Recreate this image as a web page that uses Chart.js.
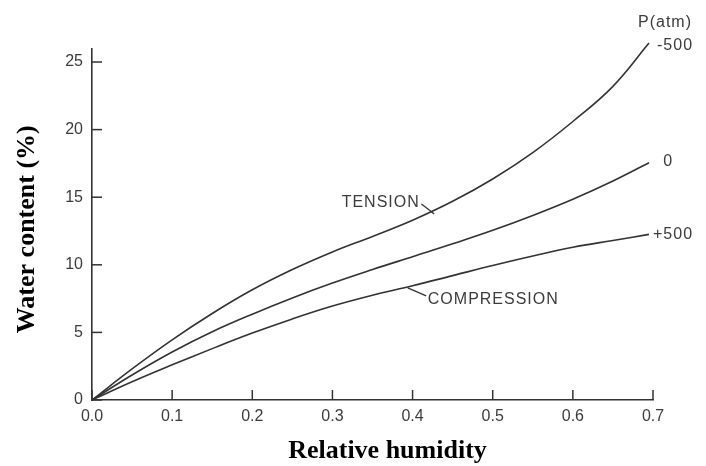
<!DOCTYPE html>
<html><head><meta charset="utf-8">
<script src="https://cdn.jsdelivr.net/npm/chart.js@4"></script>
<style>html,body{margin:0;padding:0;background:#fff}canvas{display:block}</style>
</head><body>
<canvas id="c" width="706" height="466"></canvas>
<script>
// ---- data ----
const humidity    = [0, 0.05, 0.10, 0.15, 0.20, 0.25, 0.30, 0.35, 0.40, 0.45, 0.50, 0.55, 0.60, 0.65, 0.695];
const tension     = [0, 2.3, 4.45, 6.4, 8.15, 9.65, 10.95, 12.1, 13.3, 14.7, 16.35, 18.3, 20.6, 23.2, 26.4]; // P = -500 atm
const neutral     = [0, 1.85, 3.55, 5.05, 6.35, 7.55, 8.65, 9.65, 10.6, 11.55, 12.55, 13.65, 14.85, 16.2, 17.55]; // P = 0
const compression = [0, 1.35, 2.6, 3.8, 4.95, 6.0, 6.95, 7.75, 8.45, 9.2, 9.95, 10.65, 11.3, 11.8, 12.25]; // P = +500 atm
const xTickValues = [0, 0.1, 0.2, 0.3, 0.4, 0.5, 0.6, 0.7];
const yTickValues = [0, 5, 10, 15, 20, 25];
const seriesNames = ['-500', '0', '+500'];
const legendTitle = 'P(atm)';
const xTitle = 'Relative humidity';
const yTitle = 'Water content (%)';

const ink = '#333333';
const textInk = '#3c3c3c';

function pts(ys){ return humidity.map((x,i)=>({x:x, y:ys[i]})); }

const ds = (name, ys) => ({
  label: name, data: pts(ys), borderColor: ink, borderWidth: 1.6,
  pointRadius: 0, fill: false, tension: 0.4, clip: false
});

const decor = {
  id: 'decor',
  afterDatasetsDraw(chart){
    const {ctx, chartArea: a, scales: {x, y}} = chart;
    ctx.save();
    // inward tick marks
    ctx.strokeStyle = ink; ctx.lineWidth = 1.5;
    yTickValues.forEach(v => { const py = y.getPixelForValue(v); ctx.beginPath(); ctx.moveTo(a.left, py); ctx.lineTo(a.left + 10, py); ctx.stroke(); });
    xTickValues.forEach(v => { const px = x.getPixelForValue(v); ctx.beginPath(); ctx.moveTo(px, a.bottom); ctx.lineTo(px, a.bottom - 10); ctx.stroke(); });

    // annotation text
    ctx.fillStyle = textInk;
    ctx.textBaseline = 'middle';
    ctx.font = '16px "Liberation Sans", Arial, sans-serif';
    ctx.letterSpacing = '1px';
    ctx.textAlign = 'center';
    ctx.fillText(legendTitle, x.getPixelForValue(0.715), y.getPixelForValue(27.9));
    ctx.textAlign = 'left';
    ctx.fillText(seriesNames[0], x.getPixelForValue(0.705), y.getPixelForValue(26.2));
    ctx.textAlign = 'center';
    ctx.fillText(seriesNames[1], x.getPixelForValue(0.719), y.getPixelForValue(17.6));
    ctx.textAlign = 'left';
    ctx.fillText(seriesNames[2], x.getPixelForValue(0.7), y.getPixelForValue(12.25));

    ctx.textAlign = 'right';
    ctx.fillText('TENSION', x.getPixelForValue(0.409), y.getPixelForValue(14.6));
    ctx.textAlign = 'left';
    ctx.fillText('COMPRESSION', x.getPixelForValue(0.419), y.getPixelForValue(7.4));

    // leaders
    ctx.lineWidth = 1.3;
    ctx.beginPath();
    ctx.moveTo(x.getPixelForValue(0.411), y.getPixelForValue(14.5));
    ctx.quadraticCurveTo(x.getPixelForValue(0.418), y.getPixelForValue(14.2), x.getPixelForValue(0.427), y.getPixelForValue(13.75));
    ctx.stroke();
    ctx.beginPath();
    ctx.moveTo(x.getPixelForValue(0.394), y.getPixelForValue(8.3));
    ctx.lineTo(x.getPixelForValue(0.417), y.getPixelForValue(7.7));
    ctx.stroke();

    // axis titles
    ctx.letterSpacing = '0px';
    ctx.fillStyle = '#000';
    ctx.font = 'bold 26px "Liberation Serif", "Times New Roman", serif';
    ctx.textAlign = 'center';
    ctx.fillText(xTitle, (a.left + a.right) / 2 + 15, 451);
    ctx.translate(27, (a.top + a.bottom) / 2 + 5);
    ctx.rotate(-Math.PI / 2);
    ctx.fillText(yTitle, 0, 0);
    ctx.restore();
  }
};

new Chart(document.getElementById('c'), {
  type: 'line',
  data: { datasets: [ds(seriesNames[0], tension), ds(seriesNames[1], neutral), ds(seriesNames[2], compression)] },
  options: {
    responsive: false, animation: false,
    layout: { padding: { top: 48.5, right: 53, left: 0, bottom: 0 } },
    plugins: { legend: { display: false }, tooltip: { enabled: false } },
    scales: {
      x: {
        type: 'linear', min: 0, max: 0.7,
        afterFit(s){ s.height = 66; },
        afterBuildTicks(s){ s.ticks = xTickValues.map(v => ({value: v})); },
        grid: { drawOnChartArea: false, drawTicks: false },
        border: { display: true, color: ink, width: 1.6 },
        ticks: { padding: 7, color: textInk, font: { family: '"Liberation Sans", Arial, sans-serif', size: 16 }, callback: v => Number(v).toFixed(1), maxRotation: 0 }
      },
      y: {
        type: 'linear', min: 0, max: 26,
        afterFit(s){ s.width = 92; },
        afterBuildTicks(s){ s.ticks = yTickValues.map(v => ({value: v})); },
        grid: { drawOnChartArea: false, drawTicks: false },
        border: { display: true, color: ink, width: 1.6 },
        ticks: { padding: 9, color: textInk, font: { family: '"Liberation Sans", Arial, sans-serif', size: 16 } }
      }
    }
  },
  plugins: [decor]
});
</script>
</body></html>
